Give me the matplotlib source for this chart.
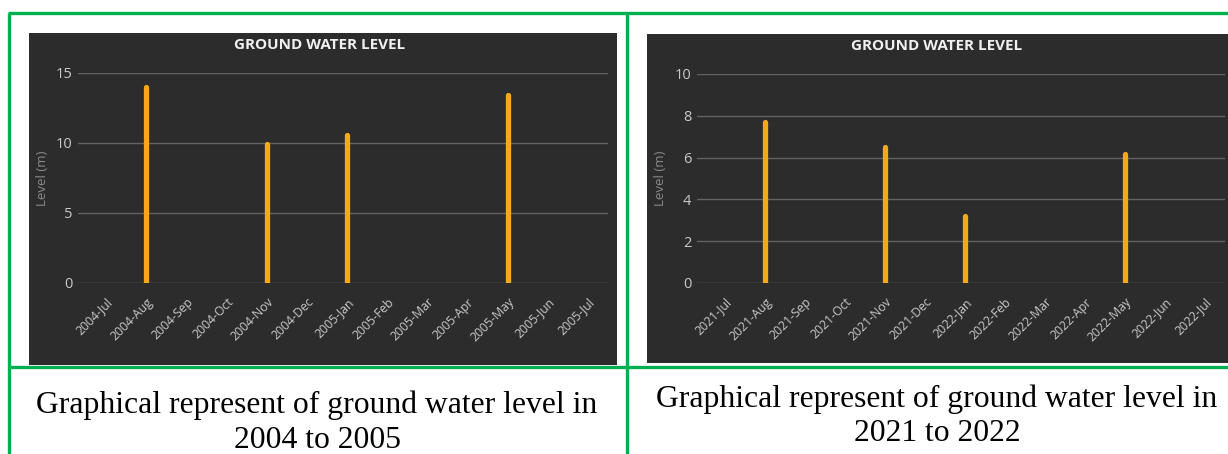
import matplotlib
matplotlib.use("Agg")
import matplotlib.pyplot as plt
from matplotlib.lines import Line2D
from matplotlib.patches import Rectangle

W, H = 1228, 454

months_a = ["2004-Jul", "2004-Aug", "2004-Sep", "2004-Oct", "2004-Nov", "2004-Dec", "2005-Jan",
            "2005-Feb", "2005-Mar", "2005-Apr", "2005-May", "2005-Jun", "2005-Jul"]
levels_a = [None, 14.0, None, None, 9.9, None, 10.55, None, None, None, 13.45, None, None]

months_b = ["2021-Jul", "2021-Aug", "2021-Sep", "2021-Oct", "2021-Nov", "2021-Dec", "2022-Jan",
            "2022-Feb", "2022-Mar", "2022-Apr", "2022-May", "2022-Jun", "2022-Jul"]
levels_b = [None, 7.7, None, None, 6.5, None, 3.2, None, None, None, 6.15, None, None]

yticks_a = [0, 5, 10, 15]
yticks_b = [0, 2, 4, 6, 8, 10]

caption_a = "Graphical represent of ground water level in\n2004 to 2005"
caption_b = "Graphical represent of ground water level in\n2021 to 2022"

BG = "#2c2c2c"
GRID = "#626262"
TXT = "#c8c8c8"
BAR = "#f5a91a"
GREEN = "#00b050"


def box(x0, y0, x1, y1):
    # pixel box (top-left origin) -> figure fraction rect
    return [x0 / W, 1 - y1 / H, (x1 - x0) / W, (y1 - y0) / H]


def panel(fig, bg_box, plot_box, months, levels, yticks, ylabel_x, title_x, title_y):
    fig.add_artist(Rectangle((bg_box[0] / W, 1 - bg_box[3] / H),
                             (bg_box[2] - bg_box[0]) / W, (bg_box[3] - bg_box[1]) / H,
                             transform=fig.transFigure, facecolor=BG, edgecolor="none", zorder=0))
    ax = fig.add_axes(box(*plot_box))
    ax.set_facecolor("none")
    x = list(range(len(months)))
    xs = [i for i, v in zip(x, levels) if v is not None]
    vs = [v for v in levels if v is not None]
    ax.vlines(xs, 0, vs, colors=BAR, linewidth=3.8, capstyle="round", zorder=3)
    ax.set_xlim(-0.7, 12.5)
    ax.set_ylim(0, yticks[-1])
    ax.set_yticks(yticks)
    ax.set_xticks(x)
    ax.set_xticklabels(months, rotation=45, ha="right", rotation_mode="anchor",
                       fontsize=8.8, color=TXT, family="Open Sans")
    for lab in ax.get_yticklabels():
        lab.set_color(TXT)
        lab.set_fontsize(10.5)
        lab.set_family("Open Sans")
    ax.tick_params(length=0)
    ax.tick_params(axis="y", pad=4)
    ax.tick_params(axis="x", pad=9)
    ax.grid(axis="y", color=GRID, linewidth=1.0)
    ax.set_axisbelow(True)
    for s in ax.spines.values():
        s.set_visible(False)
    fig.text(ylabel_x / W, 1 - 178 / H, "Level (m)", rotation=90, ha="center", va="center",
             fontsize=9.5, color="#8a8a8a", family="Open Sans")
    fig.text(title_x / W, 1 - title_y / H, "GROUND WATER LEVEL", ha="center", va="center",
             fontsize=11, color="#f0f0f0", fontweight="bold", family="Open Sans")
    return ax


fig = plt.figure(figsize=(W / 100, H / 100), dpi=100)
fig.patch.set_facecolor("white")

panel(fig, (29, 33, 617, 365), (78, 73, 608, 283), months_a, levels_a, yticks_a, 42, 320, 45)
panel(fig, (647, 34, 1228, 363), (697, 74, 1225, 283), months_b, levels_b, yticks_b, 660, 937, 46)

# green table borders
for (x0, y0, x1, y1) in [(8, 13, 1228, 13), (8, 367, 1228, 367), (9, 13, 9, 454), (627, 13, 627, 454)]:
    fig.add_artist(Line2D([x0 / W, x1 / W], [1 - y0 / H, 1 - y1 / H], transform=fig.transFigure,
                          color=GREEN, linewidth=2.4, solid_capstyle="butt", zorder=5))

fig.text(317 / W, 1 - 391 / H, caption_a, ha="center", va="top", fontsize=22.8,
         family="Liberation Serif", color="black", linespacing=1.24)
fig.text(937 / W, 1 - 384 / H, caption_b, ha="center", va="top", fontsize=22.8,
         family="Liberation Serif", color="black", linespacing=1.26)

fig.savefig("out.png", dpi=100, facecolor="white")
